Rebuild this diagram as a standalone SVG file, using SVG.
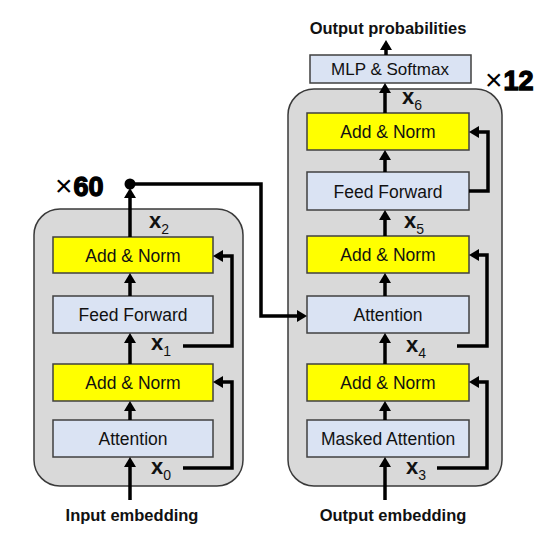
<svg xmlns="http://www.w3.org/2000/svg" width="558" height="543" viewBox="0 0 558 543">
<style>
.cont{fill:#d9d9d9;stroke:#3a3a3a;stroke-width:1.5}
.yel{fill:#ffff00;stroke:#404040;stroke-width:1.5}
.blu{fill:#dae3f3;stroke:#404040;stroke-width:1.5}
.lbl{font-family:"Liberation Sans",Arial,sans-serif;font-size:17.5px;fill:#111;text-anchor:middle}
.cap{font-family:"Liberation Sans",Arial,sans-serif;font-size:16.5px;font-weight:bold;fill:#111;text-anchor:middle}
.xv{font-family:"Liberation Sans",Arial,sans-serif;font-size:22px;font-weight:bold;fill:#111}
.sub{font-size:14px;font-weight:normal}
.rep{font-family:"Liberation Sans",Arial,sans-serif;font-size:27px;font-weight:bold;fill:#000}
.dig{stroke:#000;stroke-width:1.3}
.times{font-weight:normal;font-size:30px}
.ln{fill:none;stroke:#000;stroke-width:3.5;stroke-linejoin:miter}
.arr{marker-end:url(#ah)}
</style>
<defs>
<marker id="ah" markerUnits="userSpaceOnUse" markerWidth="12" markerHeight="12" viewBox="0 0 10 12" refX="2" refY="6" orient="auto">
<path d="M0,0 L10,6 L0,12 z" fill="#000"/>
</marker>
</defs>

<g id="encoder">
<rect class="cont" x="34" y="209" width="209" height="277" rx="26"/>
</g>
<g id="decoder">
<rect class="cont" x="288" y="89" width="214" height="397" rx="26"/>
</g>

<g id="enc-addnorm2"><rect class="yel" x="53" y="237" width="160" height="36"/><text class="lbl" x="133" y="261.5">Add &amp; Norm</text></g>
<g id="enc-ff"><rect class="blu" x="53" y="296" width="160" height="37"/><text class="lbl" x="133" y="321">Feed Forward</text></g>
<g id="enc-addnorm1"><rect class="yel" x="53" y="364" width="160" height="37"/><text class="lbl" x="133" y="389">Add &amp; Norm</text></g>
<g id="enc-attn"><rect class="blu" x="53" y="420" width="160" height="37"/><text class="lbl" x="133" y="445">Attention</text></g>

<g id="dec-addnorm3"><rect class="yel" x="307" y="113" width="162" height="37"/><text class="lbl" x="388" y="138">Add &amp; Norm</text></g>
<g id="dec-ff"><rect class="blu" x="307" y="172" width="162" height="38"/><text class="lbl" x="388" y="197.5">Feed Forward</text></g>
<g id="dec-addnorm2"><rect class="yel" x="307" y="236" width="162" height="37"/><text class="lbl" x="388" y="261">Add &amp; Norm</text></g>
<g id="dec-attn"><rect class="blu" x="307" y="296" width="162" height="37"/><text class="lbl" x="388" y="321">Attention</text></g>
<g id="dec-addnorm1"><rect class="yel" x="307" y="364" width="162" height="37"/><text class="lbl" x="388" y="389">Add &amp; Norm</text></g>
<g id="dec-mattn"><rect class="blu" x="307" y="420" width="162" height="37"/><text class="lbl" x="388" y="445">Masked Attention</text></g>

<g id="mlp"><rect class="blu" x="310" y="55" width="161" height="28"/><text class="lbl" x="390" y="75" style="font-size:17px">MLP &amp; Softmax</text></g>

<g id="texts">
<text class="cap" x="132" y="521">Input embedding</text>
<text class="cap" x="393" y="521">Output embedding</text>
<text class="cap" x="388" y="34">Output probabilities</text>
<text class="rep" x="55" y="196"><tspan class="times">×</tspan><tspan class="dig" dx="1">60</tspan></text>
<text class="rep" x="485" y="90"><tspan class="times">×</tspan><tspan class="dig" dx="1">12</tspan></text>
<text class="xv" x="151" y="474">x<tspan class="sub" dy="6">0</tspan></text>
<text class="xv" x="151" y="350">x<tspan class="sub" dy="6">1</tspan></text>
<text class="xv" x="149" y="228">x<tspan class="sub" dy="6">2</tspan></text>
<text class="xv" x="406" y="474">x<tspan class="sub" dy="6">3</tspan></text>
<text class="xv" x="406" y="352">x<tspan class="sub" dy="6">4</tspan></text>
<text class="xv" x="404" y="228">x<tspan class="sub" dy="6">5</tspan></text>
<text class="xv" x="402" y="104">x<tspan class="sub" dy="6">6</tspan></text>
</g>

<g id="connectors">
<!-- encoder -->
<line class="ln arr" x1="130" y1="500" x2="130" y2="465"/>
<line class="ln arr" x1="130" y1="420" x2="130" y2="409"/>
<line class="ln arr" x1="130" y1="364" x2="130" y2="341"/>
<line class="ln arr" x1="130" y1="296" x2="130" y2="281"/>
<line class="ln arr" x1="130" y1="237" x2="130" y2="196"/>
<circle cx="130" cy="184" r="5.5" fill="#000"/>
<polyline class="ln arr" points="183,468 232,468 232,382 221,382"/>
<polyline class="ln arr" points="183,346 232,346 232,256 221,256"/>
<polyline class="ln arr" points="130,184 261,184 261,316 299,316"/>
<!-- decoder -->
<line class="ln arr" x1="385" y1="500" x2="385" y2="465"/>
<line class="ln arr" x1="385" y1="420" x2="385" y2="409"/>
<line class="ln arr" x1="385" y1="364" x2="385" y2="341"/>
<line class="ln arr" x1="385" y1="296" x2="385" y2="281"/>
<line class="ln arr" x1="385" y1="236" x2="385" y2="218"/>
<line class="ln arr" x1="385" y1="172" x2="385" y2="158"/>
<line class="ln arr" x1="385" y1="113" x2="385" y2="91"/>
<line class="ln arr" x1="386" y1="55" x2="386" y2="48"/>
<polyline class="ln arr" points="437,468 487,468 487,382 477,382"/>
<polyline class="ln arr" points="457,346 487,346 487,255 477,255"/>
<polyline class="ln arr" points="469,191 488,191 488,132 477,132"/>
</g>
</svg>
